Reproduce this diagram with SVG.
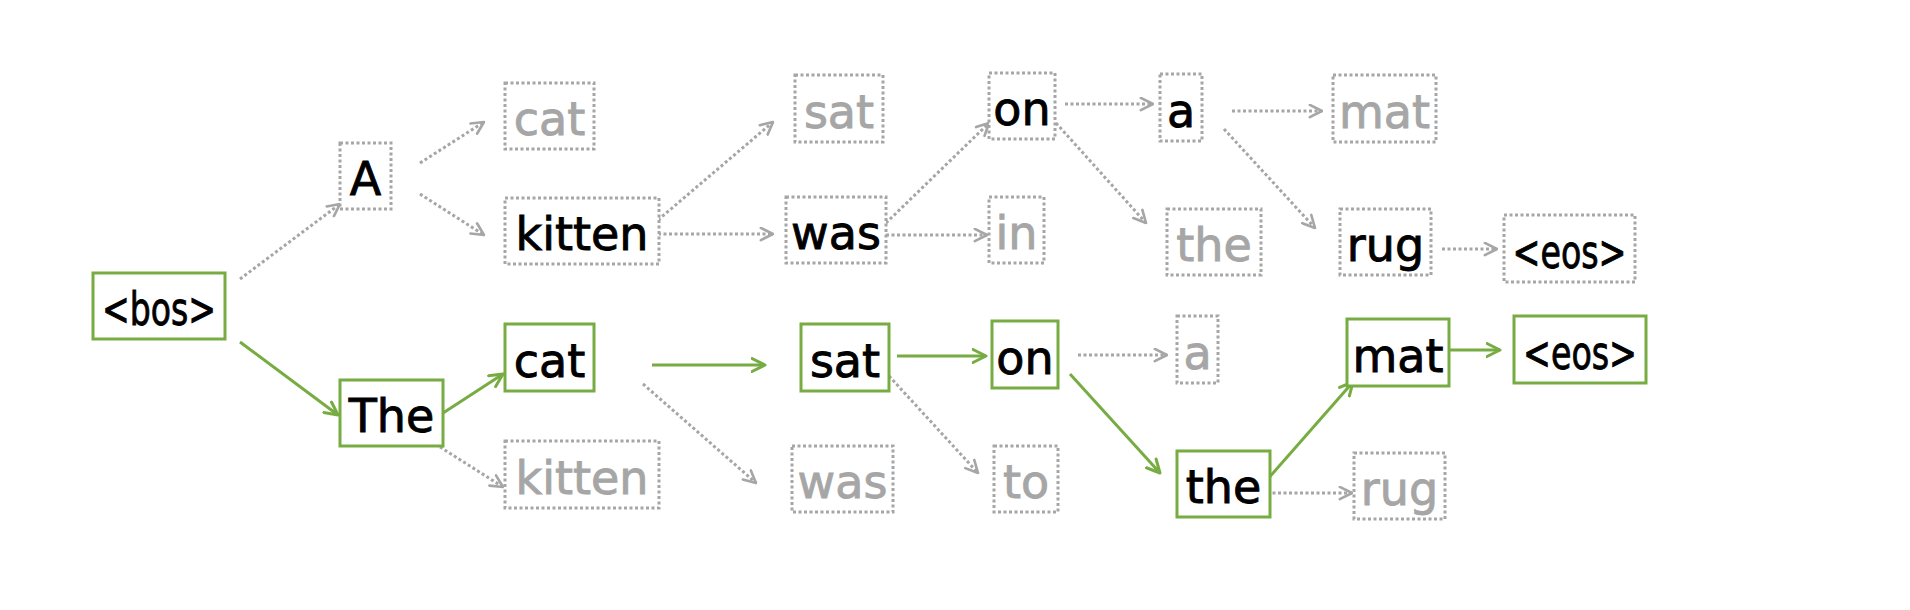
<svg xmlns="http://www.w3.org/2000/svg" width="1910" height="610" viewBox="0 0 1910 610">
<style>
  .g rect{fill:#fff;stroke:#77ac43;stroke-width:3}
  .d rect{fill:#fff;stroke:#a6a6a6;stroke-width:3;stroke-dasharray:3 2.5}
  text{font-family:"DejaVu Sans",sans-serif;font-size:46px;text-anchor:middle;stroke-width:0.9}
  .k{fill:#000;stroke:#000}
  .y{fill:#a6a6a6;stroke:#a6a6a6}
  .cg{stroke:#77ac43;stroke-width:3;fill:none;marker-end:url(#ag)}
  .cd{stroke:#a6a6a6;stroke-width:3;stroke-dasharray:3 2.5;fill:none;marker-end:url(#ad)}
</style>
<defs>
  <marker id="ag" viewBox="0 0 16 16" refX="14.5" refY="8" markerWidth="16" markerHeight="16" markerUnits="userSpaceOnUse" orient="auto">
    <path d="M1.5,1.5 L14.5,8 L1.5,14.5" fill="none" stroke="#77ac43" stroke-width="3" stroke-linecap="round" stroke-linejoin="round"/>
  </marker>
  <marker id="ad" viewBox="0 0 16 16" refX="14.5" refY="8" markerWidth="15" markerHeight="15" markerUnits="userSpaceOnUse" orient="auto">
    <path d="M1.5,1.5 L14.5,8 L1.5,14.5" fill="none" stroke="#a6a6a6" stroke-width="2.8" stroke-linecap="round" stroke-linejoin="round"/>
  </marker>
</defs>
<rect width="1910" height="610" fill="#fff"/>
<g id="connectors">
  <line class="cd" x1="240" y1="279" x2="340" y2="204"/>
  <line class="cd" x1="420" y1="163" x2="484" y2="122"/>
  <line class="cd" x1="420" y1="194" x2="484" y2="235"/>
  <line class="cd" x1="658" y1="220" x2="773" y2="122"/>
  <line class="cd" x1="658" y1="234" x2="773" y2="234"/>
  <line class="cd" x1="886" y1="223" x2="989" y2="123"/>
  <line class="cd" x1="886" y1="235" x2="987" y2="235"/>
  <line class="cd" x1="1065" y1="104" x2="1153" y2="104"/>
  <line class="cd" x1="1056" y1="123" x2="1146" y2="223"/>
  <line class="cd" x1="1232" y1="111" x2="1322" y2="111"/>
  <line class="cd" x1="1224" y1="129" x2="1315" y2="228"/>
  <line class="cd" x1="1442" y1="249" x2="1497" y2="249"/>
  <line class="cd" x1="440" y1="447" x2="503" y2="487"/>
  <line class="cd" x1="643" y1="384" x2="756" y2="483"/>
  <line class="cd" x1="889" y1="376" x2="978" y2="473"/>
  <line class="cd" x1="1078" y1="355" x2="1167" y2="355"/>
  <line class="cd" x1="1267" y1="493" x2="1352" y2="493"/>
  <line class="cg" x1="240" y1="342" x2="338" y2="415"/>
  <line class="cg" x1="440" y1="415" x2="503" y2="374"/>
  <line class="cg" x1="652" y1="365" x2="765" y2="365"/>
  <line class="cg" x1="897" y1="356" x2="986" y2="356"/>
  <line class="cg" x1="1070" y1="374" x2="1160" y2="473"/>
  <line class="cg" x1="1267" y1="480" x2="1353" y2="382"/>
  <line class="cg" x1="1445" y1="350" x2="1500" y2="350"/>
</g>
<g id="n-bos" class="g"><rect x="93" y="273" width="132" height="66"/><text class="k" x="159" y="325" textLength="114" lengthAdjust="spacingAndGlyphs">&lt;bos&gt;</text></g>
<g id="n-A" class="d"><rect x="340" y="143" width="51" height="66"/><text class="k" x="365.5" y="195">A</text></g>
<g id="n-cat1" class="d"><rect x="505" y="83" width="89" height="66"/><text class="y" x="549.5" y="135">cat</text></g>
<g id="n-kitten1" class="d"><rect x="505" y="198" width="154" height="66"/><text class="k" x="582" y="250">kitten</text></g>
<g id="n-sat1" class="d"><rect x="795" y="75" width="88" height="67"/><text class="y" x="839" y="127.5">sat</text></g>
<g id="n-was1" class="d"><rect x="786" y="197" width="100" height="66"/><text class="k" x="836" y="249">was</text></g>
<g id="n-on1" class="d"><rect x="989" y="73" width="66" height="66"/><text class="k" x="1022" y="125">on</text></g>
<g id="n-in" class="d"><rect x="989" y="197" width="55" height="66"/><text class="y" x="1016.5" y="249">in</text></g>
<g id="n-a1" class="d"><rect x="1160" y="74" width="42" height="67"/><text class="k" x="1181" y="126.5">a</text></g>
<g id="n-the1" class="d"><rect x="1167" y="209" width="94" height="66"/><text class="y" x="1214" y="261">the</text></g>
<g id="n-mat1" class="d"><rect x="1333" y="75" width="103" height="67"/><text class="y" x="1384.5" y="127.5">mat</text></g>
<g id="n-rug1" class="d"><rect x="1340" y="209" width="91" height="66"/><text class="k" x="1385.5" y="261">rug</text></g>
<g id="n-eos1" class="d"><rect x="1504" y="215" width="131" height="67"/><text class="k" x="1569.5" y="267.5" textLength="114" lengthAdjust="spacingAndGlyphs">&lt;eos&gt;</text></g>
<g id="n-The" class="g"><rect x="340" y="380" width="103" height="66"/><text class="k" x="391.5" y="432">The</text></g>
<g id="n-cat2" class="g"><rect x="505" y="324" width="89" height="67"/><text class="k" x="549.5" y="376.5">cat</text></g>
<g id="n-kitten2" class="d"><rect x="505" y="441" width="154" height="67"/><text class="y" x="582" y="493.5">kitten</text></g>
<g id="n-sat2" class="g"><rect x="801" y="324" width="88" height="67"/><text class="k" x="845" y="376.5">sat</text></g>
<g id="n-was2" class="d"><rect x="792" y="446" width="101" height="66"/><text class="y" x="842.5" y="498">was</text></g>
<g id="n-on2" class="g"><rect x="992" y="321" width="66" height="67"/><text class="k" x="1025" y="373.5">on</text></g>
<g id="n-to" class="d"><rect x="994" y="446" width="64" height="66"/><text class="y" x="1026" y="498">to</text></g>
<g id="n-a2" class="d"><rect x="1177" y="316" width="41" height="67"/><text class="y" x="1197.5" y="368.5">a</text></g>
<g id="n-the2" class="g"><rect x="1177" y="451" width="93" height="66"/><text class="k" x="1223.5" y="503">the</text></g>
<g id="n-mat2" class="g"><rect x="1347" y="319" width="102" height="67"/><text class="k" x="1398" y="371.5">mat</text></g>
<g id="n-rug2" class="d"><rect x="1354" y="453" width="91" height="66"/><text class="y" x="1399.5" y="505">rug</text></g>
<g id="n-eos2" class="g"><rect x="1514" y="316" width="132" height="67"/><text class="k" x="1580" y="368.5" textLength="114" lengthAdjust="spacingAndGlyphs">&lt;eos&gt;</text></g>
</svg>
